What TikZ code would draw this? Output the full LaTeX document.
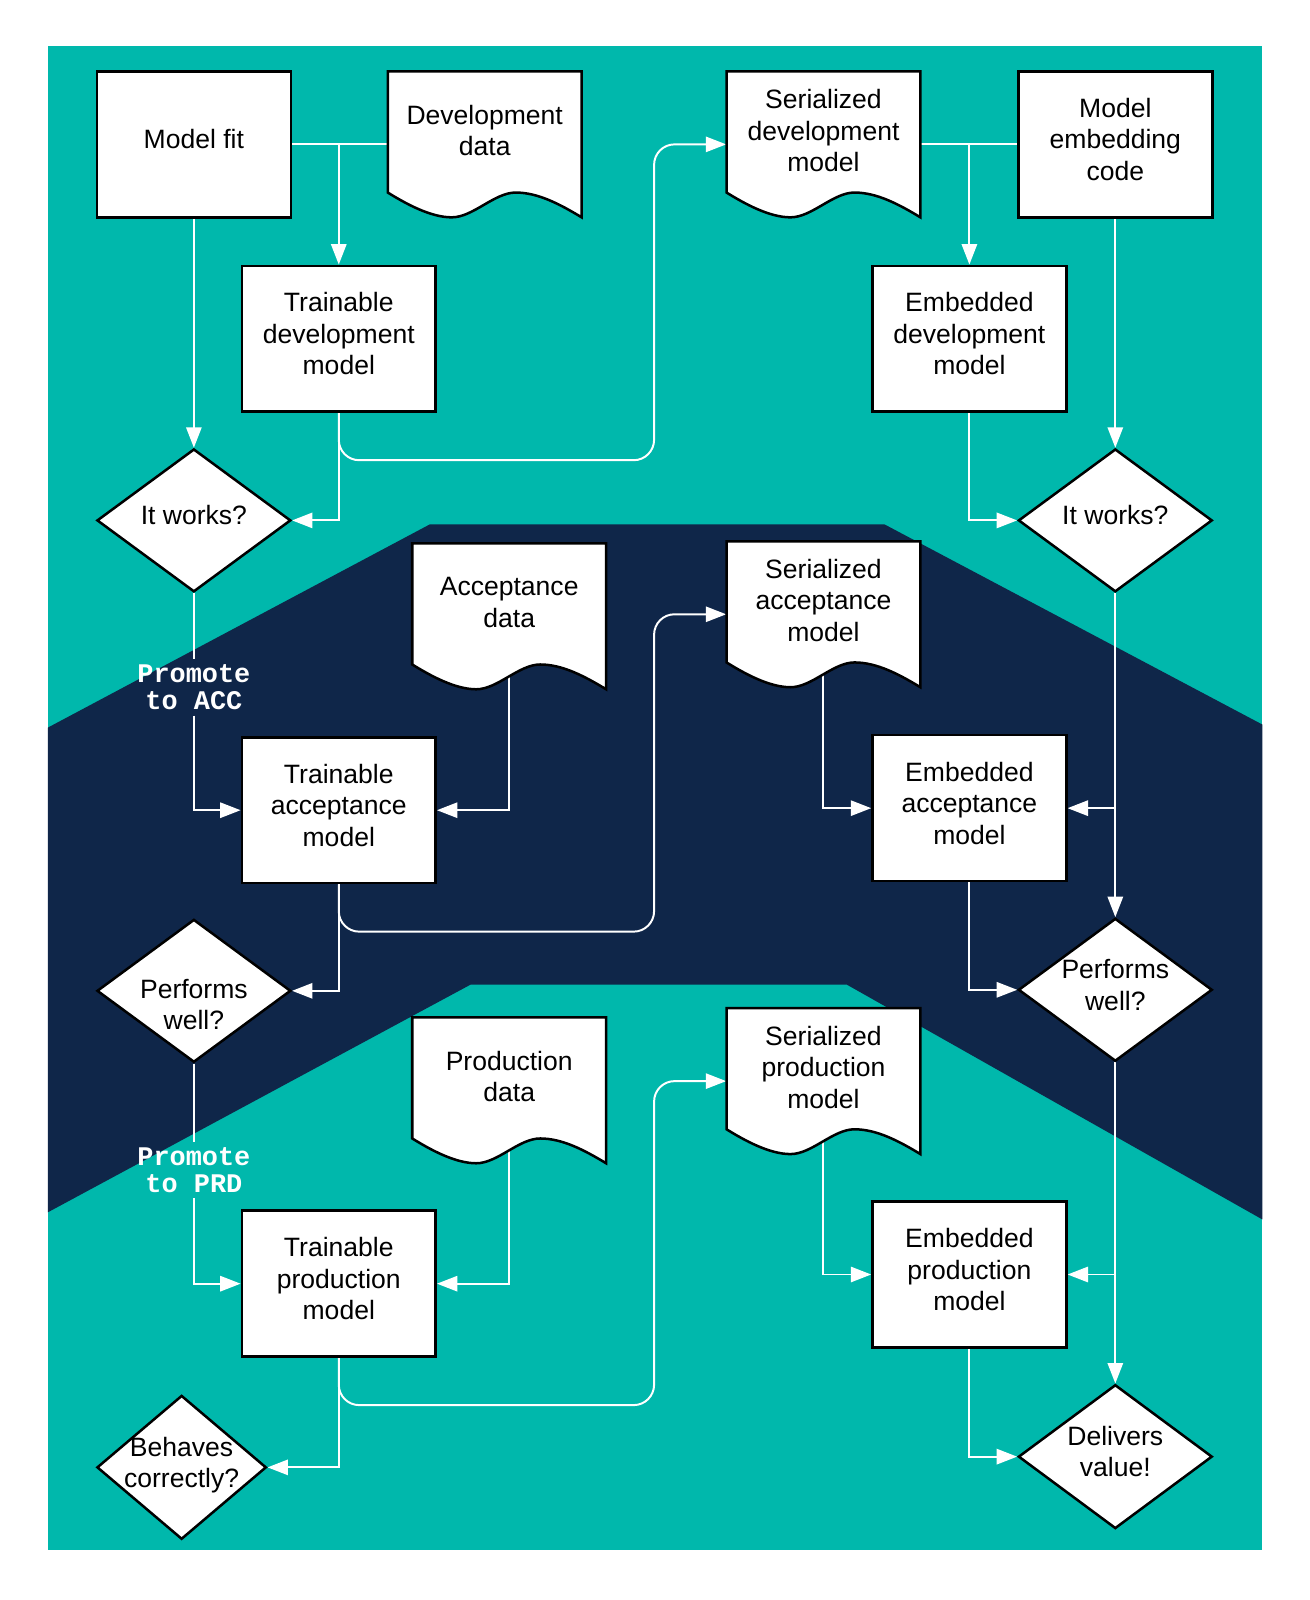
\documentclass[tikz,border=0pt]{standalone}
\usepackage{fontspec}
\setmainfont{Liberation Sans}
\newfontfamily\promofont{Liberation Mono}
\usetikzlibrary{shapes.geometric,arrows.meta}
\definecolor{stageteal}{RGB}{0,184,172}
\definecolor{stagenavy}{RGB}{15,38,73}
\pgfdeclarelayer{back}
\pgfdeclarelayer{lines}
\pgfsetlayers{back,lines,main}

\begin{document}
\begin{tikzpicture}[x=1cm,y=1cm,
    every node/.style={font=\fontsize{14.8}{17.6}\selectfont,align=center},
    procbox/.style={draw,line width=1.4pt,fill=white,minimum width=3.8cm,minimum height=2.86cm,inner sep=0pt,text depth=0.2cm},
    docarea/.style={minimum width=3.8cm,minimum height=2.86cm,inner sep=0pt},
    docline/.style={draw=black,fill=white,line width=1.4pt},
    decision/.style={diamond,draw,line width=1.4pt,fill=white,minimum width=3.8cm,minimum height=2.8cm,aspect=1.36,inner sep=0pt,text depth=0.2cm},
    promo/.style={text=white,font=\promofont\bfseries\fontsize{15}{15.3}\selectfont,inner sep=0.1cm},
    link/.style={draw=white,line width=1.1pt},
    flow/.style={link,-{Triangle[length=0.4cm,width=0.3cm]}}]
  \newcommand{\docnode}[4]{%
    \node[docarea] (#1) at (#2,#3) {};
    \begin{scope}[shift={(#2,#3)}]
      \filldraw[docline] (-1.9,1.43) -- (1.9,1.43) -- (1.9,-1.43)
        .. controls (1.47,-1.17) and (1.04,-0.944) .. (0.608,-0.944)
        .. controls (0.19,-0.944) and (-0.228,-1.43) .. (-0.646,-1.43)
        .. controls (-1.064,-1.43) and (-1.55,-1.16) .. (-1.9,-0.944) -- cycle;
    \end{scope}
    \node (#1-t) at ([yshift=0.27cm]#1.center) {#4};}
  \useasboundingbox (0,0) rectangle (25.66,-31.36);

  % stages
  \begin{pgfonlayer}{back}
    \fill[white] (0,0) rectangle (25.66,-31.36);
    \fill[stageteal] (0.94,-0.9) rectangle (24.74,-30.38);
    \fill[stagenavy] (0.94,-14.26) -- (8.42,-10.28) -- (17.34,-10.28) -- (24.74,-14.2)
      -- (24.74,-23.9) -- (16.6,-19.3) -- (9.22,-19.3) -- (0.94,-23.76) -- cycle;
  \end{pgfonlayer}

  % development
  \node[procbox] (fit) at (3.8,-2.83) {Model fit};
  \docnode{devdata}{9.5}{-2.83}{Development\\data}
  \docnode{sdev}{16.14}{-2.83}{Serialized\\development\\model}
  \node[procbox] (embcode) at (21.86,-2.83) {Model\\embedding\\code};
  \node[procbox] (tdev) at (6.64,-6.64) {Trainable\\development\\model};
  \node[procbox] (edev) at (19.0,-6.64) {Embedded\\development\\model};
  \node[decision] (worksl) at (3.8,-10.2) {It works?};
  \node[decision] (worksr) at (21.86,-10.2) {It works?};

  % acceptance
  \docnode{accdata}{9.98}{-12.08}{Acceptance\\data}
  \docnode{sacc}{16.14}{-12.04}{Serialized\\acceptance\\model}
  \node[promo] (promacc) at (3.8,-13.47) {Promote\\to ACC};
  \node[procbox] (tacc) at (6.64,-15.88) {Trainable\\acceptance\\model};
  \node[procbox] (eacc) at (19.0,-15.84) {Embedded\\acceptance\\model};
  \node[decision,text depth=0pt] (perfl) at (3.8,-19.42)
    {\makebox[0pt]{\rule{0pt}{0.9cm}Performs}\\\makebox[0pt]{well?}};
  \node[decision] (perfr) at (21.86,-19.4) {Performs\\well?};

  % production
  \docnode{prodata}{9.98}{-21.37}{Production\\data}
  \docnode{sprod}{16.14}{-21.19}{Serialized\\production\\model}
  \node[promo] (promprd) at (3.8,-22.93) {Promote\\to PRD};
  \node[procbox] (tprod) at (6.64,-25.16) {Trainable\\production\\model};
  \node[procbox] (eprod) at (19.0,-24.98) {Embedded\\production\\model};
  \node[decision,minimum width=3.32cm,minimum height=2.82cm] (behaves) at (3.56,-28.76)
    {\makebox[0pt]{Behaves}\\\makebox[0pt]{correctly?}};
  \node[decision,minimum height=2.82cm] (delivers) at (21.86,-28.55) {Delivers\\value!};

  \coordinate (j1) at (tdev.north |- fit.east);
  \coordinate (j2) at (edev.north |- sdev.east);
  \coordinate (j3) at (worksr |- eacc.east);
  \coordinate (j4) at (perfr |- eprod.east);

  \begin{pgfonlayer}{lines}
    \draw[link] (fit.east) -- (j1) -- (devdata.west);
    \draw[flow] (j1) -- (tdev.north);
    \draw[flow] (fit) -- (worksl);
    \draw[flow] (tdev.south) |- (worksl.east);
    \draw[flow,rounded corners=0.4cm] (tdev.south) |- (12.82,-9.02) |- (sdev.west);
    \draw[link] (sdev.east) -- (j2) -- (embcode.west);
    \draw[flow] (j2) -- (edev.north);
    \draw[flow] (embcode) -- (worksr);
    \draw[flow] (edev.south) |- (worksr.west);

    \draw[link] (worksl) -- (promacc);
    \draw[flow] (promacc) |- (tacc.west);
    \draw[flow] (accdata.center) |- (tacc.east);
    \draw[flow,rounded corners=0.4cm] (tacc.south) |- (12.82,-18.26) |- (sacc.west);
    \draw[flow] (tacc.south) |- (perfl.east);
    \draw[flow] (worksr) -- (perfr);
    \draw[flow] (j3) -- (eacc.east);
    \draw[flow] (sacc.center) |- (eacc.west);
    \draw[flow] (eacc.south) |- (perfr.west);

    \draw[link] (perfl) -- (promprd);
    \draw[flow] (promprd) |- (tprod.west);
    \draw[flow] (prodata.center) |- (tprod.east);
    \draw[flow,rounded corners=0.4cm] (tprod.south) |- (12.82,-27.54) |- (sprod.west);
    \draw[flow] (tprod.south) |- (behaves.east);
    \draw[flow] (perfr) -- (delivers);
    \draw[flow] (j4) -- (eprod.east);
    \draw[flow] (sprod.center) |- (eprod.west);
    \draw[flow] (eprod.south) |- (delivers.west);
  \end{pgfonlayer}
\end{tikzpicture}
\end{document}
